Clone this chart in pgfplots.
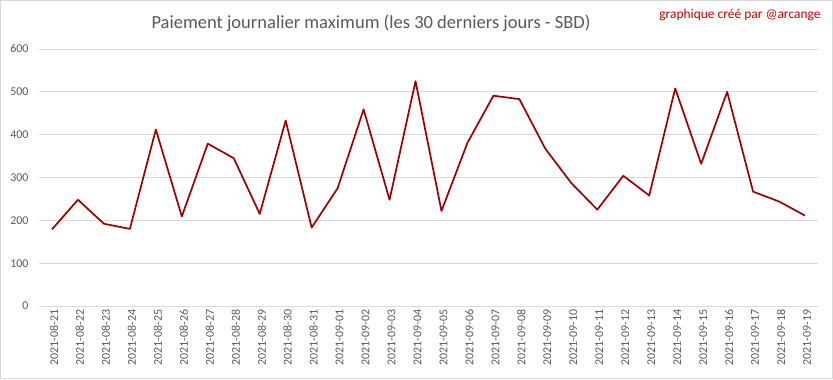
\documentclass[border=0pt]{standalone}
\usepackage{pgfplots}
\pgfplotsset{compat=1.18}
\usepackage{fontspec}
\setmainfont{Carlito}
\definecolor{txt}{HTML}{595959}
\definecolor{grd}{HTML}{D9D9D9}
\definecolor{ln}{HTML}{9E0000}
\definecolor{ann}{HTML}{C00000}
\begin{document}
\begin{tikzpicture}[x=1bp,y=1bp]
\draw[grd, line width=1bp] (0.5,0.5) rectangle (832.5,378.5);
\node[txt, font=\fontsize{18.6}{18.6}\selectfont] at (371,356) {Paiement journalier maximum (les 30 derniers jours - SBD)};
\node[ann, anchor=east, font=\fontsize{13.5}{13.5}\selectfont] at (824,364) {graphique créé par @arcange};
\begin{axis}[at={(39bp,73bp)}, anchor=south west, scale only axis,
  width=779bp, height=257bp,
  xmin=-0.5, xmax=29.5, ymin=0, ymax=600,
  ytick={0,100,...,600}, xtick={0,...,29},
  xticklabels={2021-08-21,2021-08-22,2021-08-23,2021-08-24,2021-08-25,2021-08-26,2021-08-27,2021-08-28,2021-08-29,2021-08-30,2021-08-31,2021-09-01,2021-09-02,2021-09-03,2021-09-04,2021-09-05,2021-09-06,2021-09-07,2021-09-08,2021-09-09,2021-09-10,2021-09-11,2021-09-12,2021-09-13,2021-09-14,2021-09-15,2021-09-16,2021-09-17,2021-09-18,2021-09-19},
  x tick label style={rotate=90, anchor=east, font=\fontsize{12}{12}\selectfont, color=txt, xshift=0bp, yshift=-2bp},
  y tick label style={font=\fontsize{12}{12}\selectfont, color=txt, xshift=-7bp},
  /pgf/number format/assume math mode=true,
  axis line style={draw=none}, major tick length=0pt,
  ymajorgrids, grid style={grd, line width=0.75bp},
  clip=false]
\addplot[ln, line width=1.7bp, line join=round] coordinates {
(0,179) (1,248) (2,192) (3,180) (4,412) (5,209) (6,379) (7,345) (8,215) (9,433)
(10,183) (11,275) (12,459) (13,248) (14,525) (15,222) (16,381) (17,491) (18,483) (19,367)
(20,287) (21,225) (22,304) (23,258) (24,508) (25,332) (26,500) (27,267) (28,244) (29,211)};
\end{axis}
\end{tikzpicture}
\end{document}
